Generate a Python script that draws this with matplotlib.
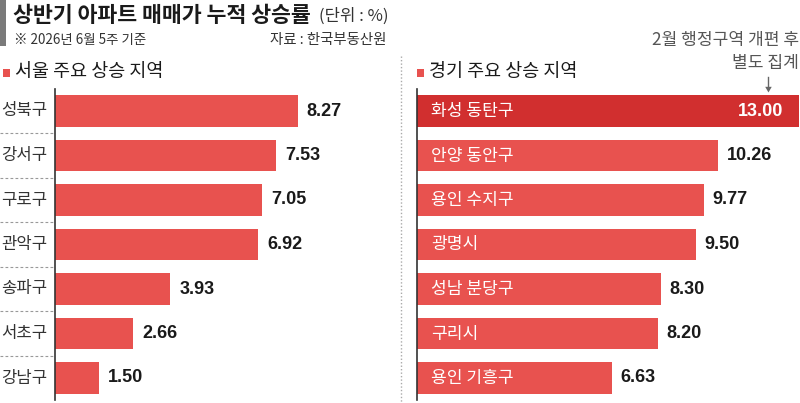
import matplotlib.pyplot as plt
import matplotlib.transforms as mtransforms
from matplotlib.lines import Line2D
from matplotlib.patches import Rectangle

plt.rcParams['font.family'] = ['Noto Sans CJK KR', 'DejaVu Sans']

seoul_names = ['성북구', '강서구', '구로구', '관악구', '송파구', '서초구', '강남구']
seoul_vals = [8.27, 7.53, 7.05, 6.92, 3.93, 2.66, 1.50]

gg_names = ['화성 동탄구', '안양 동안구', '용인 수지구', '광명시', '성남 분당구', '구리시', '용인 기흥구']
gg_vals = [13.00, 10.26, 9.77, 9.50, 8.30, 8.20, 6.63]

W, H = 800, 403
BAR = '#E8524F'
HILITE = '#D12F2F'
num_font = ['Liberation Sans', 'Noto Sans CJK KR']


def fx(x):
    return x / W


def fy(y):
    return 1 - y / H


fig = plt.figure(figsize=(8, 4.03), dpi=100)
fig.patch.set_facecolor('white')

# title block
fig.add_artist(Rectangle((0, fy(46)), fx(6), fy(0) - fy(46), transform=fig.transFigure,
                         color='#7a7a7a', lw=0))
fig.text(fx(13), fy(15), '상반기 아파트 매매가 누적 상승률', fontsize=15.6, weight='bold',
         color='#1a1a1a', va='center', ha='left')
fig.text(fx(319), fy(16), '(단위 : %)', fontsize=12, color='#333333', va='center', ha='left')
fig.text(fx(14), fy(40), '※ 2026년 6월 5주 기준', fontsize=9.7, color='#333333', va='center')
fig.text(fx(386), fy(40), '자료 : 한국부동산원', fontsize=10.4, color='#333333', va='center', ha='right')

# section headers
for x0, label in [(3, '서울 주요 상승 지역'), (417, '경기 주요 상승 지역')]:
    fig.add_artist(Rectangle((fx(x0), fy(77)), fx(7), fy(69) - fy(77), transform=fig.transFigure,
                             color=BAR, lw=0))
    fig.text(fx(x0 + 12), fy(72), label, fontsize=13.3, weight='medium', color='#1a1a1a',
             va='center', ha='left')

# annotation
fig.text(fx(799), fy(40), '2월 행정구역 개편 후', fontsize=12.3, color='#555555', va='center', ha='right')
fig.text(fx(799), fy(63), '별도 집계', fontsize=12.3, color='#555555', va='center', ha='right')
fig.add_artist(plt.Line2D([fx(768), fx(768)], [fy(77), fy(89)], transform=fig.transFigure,
                          color='#666666', lw=1))
fig.text(fx(768), fy(90), '▼', fontsize=5, color='#666666', ha='center', va='center')

# divider
fig.add_artist(Line2D([fx(401), fx(401)], [fy(56), fy(403)], transform=fig.transFigure,
                      color='#aaaaaa', lw=1, ls=(0, (1, 1.5))))

scale = 29.35
top, bottom = 88.75, 400.25


def panel(x0, x1):
    ax = fig.add_axes([fx(x0), fy(bottom), fx(x1) - fx(x0), fy(top) - fy(bottom)])
    ax.set_xlim(0, (x1 - x0) / scale)
    ax.set_ylim(6.5, -0.5)
    for s in ['top', 'right', 'bottom']:
        ax.spines[s].set_visible(False)
    ax.spines['left'].set_color('#333333')
    ax.spines['left'].set_linewidth(1.2)
    ax.set_xticks([])
    ax.set_yticks([])
    ax.patch.set_alpha(0)
    return ax


# Seoul panel
ax1 = panel(55, 395)
ys = list(range(len(seoul_vals)))
ax1.barh(ys, seoul_vals, height=0.7, color=BAR, lw=0)
for y, name, v in zip(ys, seoul_names, seoul_vals):
    ax1.annotate(name, (0, y), xytext=(-54, 0), textcoords='offset pixels', ha='left', va='center',
                 fontsize=12, color='#333333')
    ax1.annotate(f'{v:.2f}', (v, y), xytext=(9, 0), textcoords='offset pixels', ha='left',
                 va='center', fontsize=13, weight='bold', color='#1a1a1a', family=num_font)
tr = mtransforms.blended_transform_factory(fig.transFigure, ax1.transData)
for b in range(len(seoul_vals) - 1):
    fig.add_artist(Line2D([0, fx(54)], [b + 0.5, b + 0.5], transform=tr, color='#999999',
                          lw=0.8, ls=(0, (2.5, 2))))

# Gyeonggi panel
ax2 = panel(417, 800)
ax2.barh(ys, gg_vals, height=0.7, color=[HILITE] + [BAR] * (len(gg_vals) - 1), lw=0)
for y, name, v in zip(ys, gg_names, gg_vals):
    ax2.annotate(name, (0, y), xytext=(14, 0), textcoords='offset pixels', ha='left', va='center',
                 fontsize=12.3, color='white')
    if y == 0:
        ax2.annotate(f'{v:.2f}', (v, y), xytext=(-15, 0), textcoords='offset pixels', ha='right',
                     va='center', fontsize=13, weight='bold', color='white', family=num_font)
    else:
        ax2.annotate(f'{v:.2f}', (v, y), xytext=(9, 0), textcoords='offset pixels', ha='left',
                     va='center', fontsize=13, weight='bold', color='#1a1a1a', family=num_font)

fig.savefig('out.png', dpi=100, facecolor='white')
